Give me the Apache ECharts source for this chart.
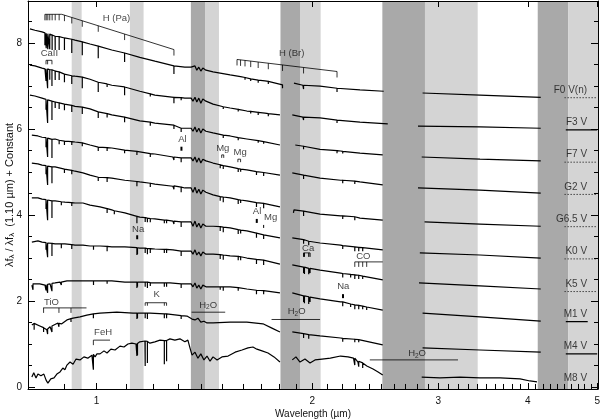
<!DOCTYPE html>
<html>
<head>
<meta charset="utf-8">
<script src="https://cdn.jsdelivr.net/npm/echarts@6/dist/echarts.min.js"></script>
<style>
html, body { margin: 0; background: #fff; }
#chart { width: 600px; height: 420px; }
</style>
</head>
<body>
<div id="chart"></div>
<script>
// axis ticks
const xMajorTicks = [1, 2, 3, 4, 5]
const xMinorTicks = [0.9, 1.1, 1.2, 1.3, 1.4, 1.5, 1.6, 1.7, 1.8, 1.9, 2.1, 2.2, 2.3, 2.4, 2.5, 2.6, 2.7, 2.8, 2.9,
  3.1, 3.2, 3.3, 3.4, 3.5, 3.6, 3.7, 3.8, 3.9, 4.1, 4.2, 4.3, 4.4, 4.5, 4.6, 4.7, 4.8, 4.9]
const yMajorTicks = [0, 2, 4, 6, 8]
const yMinorTicks = [0.5, 1, 1.5, 2.5, 3, 3.5, 4.5, 5, 5.5, 6.5, 7, 7.5, 8.5]

// telluric bands (um)
const darkBands = [[1.354, 1.417], [1.806, 1.923], [2.506, 2.874], [4.13, 4.557]]
const lightBands = [[0.923, 0.953], [1.113, 1.163], [1.417, 1.482], [1.923, 2.055], [2.874, 3.405], [4.557, 5.02]]

// stars, offsets, and whether an M band spectrum exists
const starNames = ['F0 V(n)', 'F3 V', 'F7 V', 'G2 V', 'G6.5 V', 'K0 V', 'K5 V', 'M1 V', 'M4 V', 'M8 V']
const starLevels = [6.73, 5.98, 5.23, 4.48, 3.73, 2.98, 2.22, 1.52, 0.77, 0.03]
const hasMBand = [false, true, false, false, false, false, false, true, true, false]

// line lists (um)
const paschen = [0.8468, 0.8504, 0.8548, 0.8601, 0.8667, 0.8753, 0.8865, 0.9017, 0.9232, 0.9549, 1.0052, 1.0941, 1.2822]
const brackett = [1.5705, 1.5885, 1.6114, 1.6412, 1.6811, 1.7367, 1.8179, 1.9451, 2.1661]
const caII = [0.8498, 0.8542, 0.8662]
const caI = [1.9453, 1.9507, 1.9777, 1.9862]
const coHeads = [2.2935, 2.3227, 2.3525, 2.3829]
const tioHeads = [0.8432, 0.8859, 0.9209]
const kI = [1.169, 1.1773, 1.2432, 1.2522]

// spectra: segments of [um, flux+offset]
const specF0 = [
  [[0.807,8.33],[0.820,8.30],[0.839,8.26],[0.847,8.23],[0.875,8.16],[0.903,8.12],[0.933,8.07],[0.979,7.98],[1.011,7.91],[1.050,7.84],[1.095,7.77],[1.149,7.67],[1.206,7.58],[1.282,7.47],[1.328,7.44],[1.355,7.44],[1.363,7.40],[1.372,7.47],[1.380,7.37],[1.389,7.44],[1.398,7.35],[1.407,7.42],[1.421,7.37],[1.454,7.33],[1.536,7.26],[1.621,7.19],[1.718,7.12],[1.821,7.02]],
  [[1.886,7.07],[1.941,7.02],[2.051,7.00],[2.170,6.95],[2.332,6.91],[2.517,6.88]],
  [[2.852,6.84],[3.43,6.79],[4.17,6.74]]
]
const linesF0 = [[0.8468,8.24,7.95],[0.8504,8.23,7.88],[0.8548,8.22,7.86],[0.8601,8.21,7.86],[0.8667,8.19,7.84],[0.8753,8.16,7.84],[0.8865,8.15,7.84],[0.9017,8.12,7.84],[0.9232,8.09,7.77],[0.9549,8.03,7.72],[1.0052,7.93,7.65],[1.0941,7.77,7.56],[1.2822,7.47,7.28],[1.5885,7.22,7.18],[1.6114,7.20,7.15],[1.6411,7.17,7.12],[1.6811,7.14,7.08],[1.7367,7.11,7.05],[1.8179,7.03,6.95],[1.9451,7.02,6.93],[2.1661,6.95,6.86]]

const specF3 = [
  [[0.807,7.49],[0.820,7.47],[0.839,7.42],[0.847,7.40],[0.875,7.35],[0.903,7.28],[0.933,7.23],[0.957,7.21],[0.979,7.16],[1.011,7.09],[1.050,7.02],[1.095,6.98],[1.149,6.88],[1.206,6.79],[1.282,6.74],[1.328,6.72],[1.355,6.72],[1.363,6.65],[1.372,6.74],[1.380,6.63],[1.389,6.72],[1.398,6.60],[1.407,6.70],[1.421,6.65],[1.454,6.58],[1.536,6.49],[1.621,6.42],[1.718,6.37],[1.803,6.33]],
  [[1.876,6.33],[1.941,6.28],[2.051,6.26],[2.170,6.21],[2.332,6.16],[2.550,6.12]],
  [[2.810,6.07],[3.43,6.05],[4.17,6.02]]
]
const linesF3 = [[0.8498,7.40,7.12],[0.8542,7.40,6.95],[0.8601,7.38,7.15],[0.8662,7.38,7.00],[0.8753,7.35,7.14],[0.8865,7.33,7.14],[0.9017,7.28,7.09],[0.9232,7.24,7.05],[0.9549,7.21,6.95],[1.0052,7.09,6.86],[1.0343,7.05,6.98],[1.0941,6.98,6.79],[1.1883,6.82,6.76],[1.2822,6.74,6.60],[1.3123,6.73,6.67],[1.5025,6.52,6.47],[1.5765,6.46,6.41],[1.6411,6.41,6.36],[1.6811,6.39,6.33],[1.7367,6.36,6.30],[1.9451,6.28,6.21],[2.1661,6.21,6.14]]

const specF7 = [
  [[0.807,6.79],[0.820,6.77],[0.839,6.72],[0.852,6.67],[0.875,6.63],[0.903,6.58],[0.933,6.53],[0.957,6.51],[0.979,6.47],[1.011,6.40],[1.050,6.33],[1.095,6.28],[1.149,6.19],[1.206,6.14],[1.282,6.09],[1.328,6.02],[1.355,6.02],[1.363,5.95],[1.372,6.05],[1.380,5.93],[1.389,6.02],[1.398,5.91],[1.407,6.00],[1.421,5.95],[1.454,5.91],[1.536,5.84],[1.621,5.77],[1.718,5.70],[1.803,5.63]],
  [[1.894,5.63],[1.954,5.58],[2.051,5.53],[2.191,5.49],[2.332,5.44],[2.509,5.40]],
  [[2.844,5.35],[3.43,5.30],[4.17,5.26]]
]
const linesF7 = [[0.8498,6.69,6.45],[0.8542,6.68,6.14],[0.8662,6.65,6.21],[0.8753,6.63,6.49],[0.8865,6.61,6.47],[0.9017,6.58,6.44],[0.9232,6.55,6.40],[0.9549,6.51,6.35],[1.0052,6.40,6.26],[1.0343,6.36,6.27],[1.0941,6.28,6.16],[1.1883,6.16,6.08],[1.2822,6.09,6.00],[1.3123,6.02,5.93],[1.5025,5.86,5.79],[1.5765,5.80,5.74],[1.6811,5.73,5.68],[1.7109,5.71,5.66],[1.9451,5.60,5.53],[2.1661,5.50,5.44],[2.2062,5.48,5.43]]

const specG2 = [
  [[0.812,5.86],[0.828,5.84],[0.839,5.81],[0.852,5.79],[0.875,5.77],[0.903,5.72],[0.933,5.70],[0.957,5.67],[0.979,5.63],[1.011,5.58],[1.050,5.56],[1.095,5.51],[1.149,5.47],[1.206,5.42],[1.278,5.35],[1.328,5.33],[1.355,5.33],[1.363,5.26],[1.372,5.35],[1.380,5.23],[1.389,5.33],[1.398,5.21],[1.407,5.30],[1.421,5.26],[1.454,5.21],[1.536,5.12],[1.621,5.05],[1.718,4.98],[1.803,4.93]],
  [[1.876,4.98],[1.954,4.91],[2.051,4.86],[2.191,4.81],[2.332,4.77],[2.509,4.70]],
  [[2.810,4.63],[3.43,4.58],[4.17,4.51]]
]
const linesG2 = [[0.8498,5.80,5.58],[0.8542,5.79,5.35],[0.8662,5.76,5.33],[0.8865,5.74,5.65],[0.9017,5.72,5.63],[0.9232,5.71,5.63],[0.9549,5.68,5.60],[1.0052,5.58,5.49],[1.0343,5.57,5.49],[1.0941,5.51,5.44],[1.1383,5.48,5.40],[1.1883,5.43,5.35],[1.2822,5.35,5.28],[1.3123,5.33,5.23],[1.4878,5.17,5.09],[1.5025,5.15,5.07],[1.5765,5.08,5.00],[1.589,5.07,5.01],[1.6719,5.01,4.93],[1.7109,4.99,4.91],[1.9453,4.93,4.84],[2.2062,4.81,4.74],[2.2935,4.79,4.72]]

const specG65 = [
  [[0.812,5.21],[0.828,5.19],[0.839,5.16],[0.852,5.14],[0.875,5.12],[0.903,5.07],[0.933,5.02],[0.957,4.98],[0.979,4.93],[1.011,4.88],[1.050,4.86],[1.095,4.81],[1.149,4.77],[1.206,4.72],[1.278,4.67],[1.328,4.63],[1.355,4.63],[1.363,4.53],[1.372,4.65],[1.380,4.51],[1.389,4.60],[1.398,4.49],[1.407,4.58],[1.421,4.53],[1.454,4.47],[1.536,4.40],[1.621,4.33],[1.718,4.26],[1.803,4.19]],
  [[1.883,4.05],[1.886,4.12],[1.954,4.07],[2.051,4.02],[2.191,3.98],[2.332,3.93],[2.509,3.88]],
  [[2.870,3.84],[3.43,3.79],[4.17,3.74]]
]
const linesG65 = [[0.8498,5.15,4.95],[0.8542,5.14,4.70],[0.8662,5.12,4.74],[0.9017,5.07,4.98],[0.9232,5.04,4.95],[1.0052,4.88,4.79],[1.0343,4.87,4.77],[1.1383,4.78,4.67],[1.1883,4.74,4.65],[1.2822,4.68,4.60],[1.3123,4.65,4.53],[1.4878,4.43,4.33],[1.5025,4.42,4.30],[1.5765,4.36,4.26],[1.589,4.35,4.28],[1.6719,4.29,4.19],[1.7109,4.27,4.16],[1.9453,4.09,3.98],[2.2062,3.98,3.91],[2.2935,3.96,3.88]]

const specK0 = [
  [[0.812,4.40],[0.828,4.40],[0.839,4.37],[0.852,4.35],[0.875,4.33],[0.903,4.30],[0.933,4.28],[0.957,4.28],[0.979,4.23],[1.011,4.19],[1.050,4.12],[1.095,4.05],[1.149,3.95],[1.206,3.91],[1.278,3.86],[1.328,3.84],[1.355,3.84],[1.363,3.74],[1.372,3.86],[1.380,3.72],[1.389,3.81],[1.398,3.70],[1.407,3.79],[1.421,3.74],[1.454,3.74],[1.536,3.70],[1.621,3.63],[1.718,3.53],[1.803,3.47]],
  [[1.876,3.47],[1.954,3.40],[2.051,3.35],[2.191,3.30],[2.332,3.23],[2.509,3.19]],
  [[2.827,3.12],[3.43,3.07],[4.17,3.00]]
]
const linesK0 = [[0.8498,4.36,4.14],[0.8542,4.35,3.88],[0.8662,4.33,3.93],[0.8927,4.31,4.23],[0.9232,4.29,4.21],[1.0343,4.15,4.05],[1.0585,4.10,4.02],[1.1383,3.97,3.81],[1.169,3.94,3.84],[1.1773,3.93,3.83],[1.1883,3.92,3.83],[1.2432,3.88,3.81],[1.2522,3.88,3.81],[1.2822,3.86,3.79],[1.3123,3.84,3.72],[1.4878,3.73,3.63],[1.5025,3.72,3.60],[1.5765,3.66,3.56],[1.589,3.65,3.57],[1.6719,3.58,3.47],[1.7109,3.54,3.44],[1.9453,3.43,3.33],[1.9777,3.39,3.30],[2.2062,3.29,3.21],[2.2935,3.26,3.16],[2.3227,3.25,3.16],[2.3525,3.24,3.16]]

const specK5 = [
  [[0.812,3.37],[0.828,3.40],[0.839,3.37],[0.852,3.35],[0.875,3.33],[0.903,3.33],[0.933,3.30],[0.957,3.30],[0.979,3.28],[1.011,3.28],[1.050,3.26],[1.095,3.26],[1.149,3.23],[1.206,3.21],[1.278,3.19],[1.328,3.16],[1.355,3.16],[1.363,3.09],[1.372,3.19],[1.380,3.07],[1.389,3.14],[1.398,3.05],[1.407,3.14],[1.421,3.09],[1.454,3.09],[1.536,3.05],[1.621,3.00],[1.718,2.93],[1.803,2.86]],
  [[1.876,2.84],[1.954,2.77],[2.051,2.72],[2.191,2.65],[2.332,2.58],[2.509,2.49]],
  [[2.819,2.42],[3.43,2.35],[4.17,2.28]]
]
const linesK5 = [[0.8498,3.36,3.19],[0.8542,3.35,3.02],[0.8662,3.34,3.05],[0.8927,3.33,3.23],[0.9232,3.31,3.21],[0.99,3.28,3.19],[1.0343,3.27,3.16],[1.1383,3.24,3.07],[1.1404,3.24,3.09],[1.169,3.23,3.12],[1.1773,3.22,3.09],[1.1883,3.22,3.12],[1.2432,3.20,3.12],[1.2522,3.20,3.12],[1.3123,3.16,3.05],[1.4878,3.08,2.98],[1.5025,3.07,2.96],[1.5765,3.04,2.95],[1.589,3.03,2.95],[1.6719,2.97,2.86],[1.7109,2.95,2.84],[1.9453,2.79,2.65],[1.9507,2.79,2.63],[1.9777,2.76,2.62],[1.9862,2.76,2.65],[2.2062,2.64,2.55],[2.2631,2.62,2.55],[2.2935,2.61,2.51],[2.3227,2.60,2.51],[2.3525,2.58,2.51]]

const specM1 = [
  [[0.812,2.37],[0.820,2.42],[0.833,2.40],[0.847,2.37],[0.861,2.40],[0.875,2.42],[0.889,2.44],[0.909,2.47],[0.933,2.47],[0.957,2.47],[0.979,2.47],[1.011,2.47],[1.050,2.47],[1.095,2.44],[1.149,2.44],[1.206,2.42],[1.266,2.42],[1.328,2.40],[1.355,2.40],[1.363,2.33],[1.372,2.42],[1.380,2.30],[1.389,2.37],[1.398,2.28],[1.407,2.37],[1.421,2.33],[1.454,2.33],[1.536,2.33],[1.621,2.28],[1.718,2.23],[1.803,2.19]],
  [[1.876,2.19],[1.954,2.09],[2.051,2.05],[2.191,1.98],[2.332,1.88],[2.509,1.79]],
  [[2.852,1.72],[3.43,1.63],[4.17,1.53]]
]
const linesM1 = [[0.815,2.40,2.26],[0.8498,2.38,2.25],[0.8542,2.39,2.19],[0.8662,2.41,2.23],[0.8927,2.44,2.37],[0.99,2.47,2.37],[1.0343,2.47,2.40],[1.1383,2.44,2.30],[1.1404,2.44,2.33],[1.169,2.44,2.33],[1.1773,2.44,2.30],[1.1883,2.43,2.35],[1.2432,2.42,2.33],[1.2522,2.42,2.33],[1.3123,2.40,2.30],[1.4878,2.33,2.26],[1.5025,2.33,2.24],[1.5765,2.31,2.24],[1.6719,2.25,2.16],[1.7109,2.24,2.16],[1.9453,2.12,1.98],[1.9507,2.12,1.95],[1.9777,2.10,1.93],[1.9862,2.09,1.98],[2.2062,1.98,1.88],[2.2631,1.93,1.86],[2.2935,1.91,1.81],[2.3227,1.90,1.81],[2.3525,1.88,1.81],[2.3829,1.86,1.79]]

const specM4 = [
  [[0.812,1.44],[0.823,1.49],[0.833,1.42],[0.844,1.37],[0.852,1.33],[0.861,1.40],[0.869,1.44],[0.883,1.49],[0.894,1.47],[0.909,1.56],[0.927,1.60],[0.948,1.63],[0.969,1.67],[1.011,1.72],[1.067,1.74],[1.124,1.72],[1.187,1.72],[1.254,1.70],[1.337,1.65],[1.359,1.58],[1.372,1.56],[1.385,1.60],[1.398,1.51],[1.412,1.53],[1.426,1.49],[1.454,1.49],[1.536,1.51],[1.621,1.51],[1.707,1.47],[1.757,1.37],[1.803,1.28]],
  [[1.876,1.28],[1.954,1.23],[2.051,1.19],[2.191,1.14],[2.332,1.07],[2.509,0.98]],
  [[2.852,0.91],[3.43,0.86],[4.17,0.81]]
]
const linesM4 = [[0.818,1.48,1.33],[0.8432,1.38,1.28],[0.8542,1.35,1.23],[0.8662,1.42,1.28],[0.8859,1.48,1.40],[0.9209,1.59,1.51],[0.9896,1.70,1.60],[1.1383,1.72,1.58],[1.1404,1.72,1.60],[1.169,1.72,1.60],[1.1773,1.72,1.58],[1.2432,1.70,1.60],[1.2522,1.70,1.60],[1.3123,1.66,1.58],[1.9453,1.24,1.14],[1.9777,1.22,1.12],[2.2062,1.13,1.05],[2.2935,1.11,1.04],[2.3227,1.10,1.04]]

const specM8 = [
  [[0.812,0.23],[0.817,0.33],[0.823,0.21],[0.828,0.30],[0.836,0.26],[0.844,0.30],[0.850,0.16],[0.855,0.09],[0.863,0.19],[0.872,0.21],[0.880,0.30],[0.889,0.35],[0.897,0.44],[0.903,0.40],[0.909,0.51],[0.918,0.58],[0.927,0.53],[0.936,0.65],[0.948,0.63],[0.960,0.70],[0.972,0.67],[0.985,0.74],[0.995,0.70],[1.001,0.77],[1.011,0.77],[1.024,0.84],[1.034,0.79],[1.047,0.88],[1.061,0.86],[1.078,0.95],[1.092,0.93],[1.106,1.00],[1.120,1.02],[1.135,1.00],[1.149,1.05],[1.168,1.07],[1.187,1.02],[1.206,1.05],[1.226,1.09],[1.246,1.07],[1.266,1.12],[1.286,1.09],[1.307,1.12],[1.328,1.05],[1.341,1.09],[1.350,0.91],[1.359,0.74],[1.372,0.81],[1.385,0.67],[1.398,0.77],[1.412,0.63],[1.426,0.72],[1.440,0.60],[1.454,0.70],[1.473,0.63],[1.496,0.70],[1.526,0.72],[1.561,0.81],[1.596,0.86],[1.627,0.91],[1.653,0.93],[1.674,0.88],[1.702,0.84],[1.735,0.79],[1.769,0.70],[1.803,0.58]],
  [[1.876,0.63],[1.898,0.70],[1.923,0.58],[1.954,0.65],[1.986,0.56],[2.018,0.63],[2.064,0.65],[2.120,0.67],[2.191,0.72],[2.244,0.70],[2.284,0.67],[2.317,0.58],[2.354,0.56],[2.384,0.49],[2.432,0.42],[2.472,0.35],[2.509,0.28]],
  [[2.844,0.23],[3.016,0.21],[3.217,0.23],[3.43,0.21],[3.659,0.21],[3.902,0.19],[4.029,0.14],[4.12,0.12]]
]
const linesM8 = [[0.9896,0.76,0.40],[1.1383,1.01,0.72],[1.1404,1.01,0.74],[1.169,1.07,0.49],[1.1773,1.06,0.56],[1.2432,1.08,0.53],[1.2522,1.08,0.60],[2.2935,0.67,0.51],[2.3227,0.60,0.47],[2.3525,0.56,0.44]]

const spectra = [
  [specF0, linesF0], [specF3, linesF3], [specF7, linesF7], [specG2, linesG2], [specG65, linesG65],
  [specK0, linesK0], [specK5, linesK5], [specM1, linesM1], [specM4, linesM4], [specM8, linesM8]
]

const X_MIN = 0.802
const X_MAX = 5.013
const Y_MIN = -0.047
const Y_MAX = 8.98
const DARK = '#a9a9a9'
const LIGHT = '#d4d4d4'
const FONT = 'Liberation Sans, Arial, sans-serif'

// annotation labels and brackets
const annotTexts = [
  [1.066, 8.57, 'H (Pa)'], [0.859, 7.77, 'CaII'], [1.872, 7.76, 'H (Br)'],
  [1.318, 5.76, 'Al'], [1.500, 5.55, 'Mg'], [1.586, 5.45, 'Mg'],
  [1.675, 4.08, 'Al'], [1.750, 3.95, 'Mg'], [1.143, 3.67, 'Na'],
  [1.974, 3.23, 'Ca'], [2.357, 3.05, 'CO'], [2.210, 2.35, 'Na'],
  [0.865, 1.98, 'TiO'], [1.213, 2.16, 'K'], [1.021, 1.26, 'FeH'],
  [1.431, 1.91, 'H2O'], [1.902, 1.75, 'H2O'], [2.802, 0.78, 'H2O']
]
const brackets = [
  { path: [[0.8468, 8.67], [0.894, 8.67], [1.2822, 7.85]], ticks: paschen, len: 6, w: 0.8 },
  { path: [[1.5705, 7.62], [2.1661, 7.34]], ticks: brackett, len: 6, w: 0.8 },
  { path: [[0.8498, 7.60], [0.8662, 7.60]], ticks: caII, len: 4, w: 0.8 },
  { path: [[1.4950, 5.40], [1.5048, 5.40]], ticks: [1.4950, 1.5048], len: 3, w: 0.8 },
  { path: [[1.5749, 5.30], [1.5886, 5.30]], ticks: [1.5749, 1.5886], len: 3, w: 0.8 },
  { path: [[1.9453, 3.12], [1.9862, 3.12]], ticks: caI, len: 4, w: 1 },
  { path: [[2.2935, 2.91], [2.509, 2.91]], ticks: coHeads, len: 5, w: 0.8 },
  { path: [[0.842, 1.84], [0.968, 1.84]], ticks: tioHeads, len: 5, w: 0.8 },
  { path: [[1.169, 1.96], [1.2522, 1.96]], ticks: kI, len: 3, w: 0.8 },
  { path: [[0.9896, 1.09], [1.044, 1.09]], ticks: [0.9896], len: 5, w: 0.8 },
  { path: [[1.357, 1.74], [1.512, 1.74]], ticks: [], len: 0, w: 0.8 },
  { path: [[1.755, 1.57], [2.051, 1.57]], ticks: [], len: 0, w: 0.8 },
  { path: [[2.407, 0.63], [3.196, 0.63]], ticks: [], len: 0, w: 0.8 },
  { path: [[1.3135, 5.59]], ticks: [1.3135], len: 4, w: 2 },
  { path: [[1.6735, 3.91]], ticks: [1.6735], len: 4, w: 2 },
  { path: [[1.7109, 3.77]], ticks: [1.7109], len: 3, w: 1 },
  { path: [[1.1393, 3.53]], ticks: [1.1393], len: 4, w: 2 },
  { path: [[2.208, 2.16]], ticks: [2.208], len: 4, w: 2 }
]

function spectrumSeries(segs, lines) {
  return segs.map(seg => {
    const lo = seg[0][0]
    const hi = seg[seg.length - 1][0]
    const pts = seg.slice()
    lines.forEach(([l, top, bot]) => {
      if (l > lo && l < hi) pts.push([l, top], [l, bot], [l, top])
    })
    pts.sort((a, b) => a[0] - b[0])
    return {
      type: 'line', data: pts, z: 3, symbol: 'none', silent: true, animation: false,
      lineStyle: { color: '#000', width: 1.2 }
    }
  })
}

function renderBands(params, api) {
  const a = api.coord([api.value(0), Y_MAX])
  const b = api.coord([api.value(1), Y_MIN])
  return {
    type: 'rect',
    shape: { x: a[0], y: a[1], width: b[0] - a[0], height: b[1] - a[1] },
    style: { fill: api.value(2) ? DARK : LIGHT }
  }
}

function renderBracket(params, api) {
  const b = brackets[params.dataIndex]
  const pts = b.path.map(p => api.coord(p))
  const children = []
  if (pts.length > 1) {
    children.push({ type: 'polyline', shape: { points: pts }, style: { stroke: '#000', lineWidth: 0.8, fill: null } })
  }
  b.ticks.forEach(l => {
    const x = api.coord([l, b.path[0][1]])[0]
    let y = pts[0][1]
    for (let i = 0; i < pts.length - 1; i++) {
      if (x >= pts[i][0] - 0.01 && x <= pts[i + 1][0] + 0.01) {
        const t = (x - pts[i][0]) / ((pts[i + 1][0] - pts[i][0]) || 1)
        y = pts[i][1] + t * (pts[i + 1][1] - pts[i][1])
      }
    }
    children.push({ type: 'line', shape: { x1: x, y1: y, x2: x, y2: y + b.len }, style: { stroke: '#000', lineWidth: b.w } })
  })
  return { type: 'group', children }
}

const tickAxis = (pos, vals, len, extra) => Object.assign({
  type: 'log', logBase: 10, min: X_MIN, max: X_MAX, position: pos, z: 6,
  axisLine: { show: false },
  axisTick: { show: true, inside: true, length: len, customValues: vals, lineStyle: { color: '#000', width: 1 } },
  axisLabel: { show: false },
  splitLine: { show: false }
}, extra || {})

const yTickAxis = (pos, vals, len, extra) => Object.assign({
  type: 'value', min: Y_MIN, max: Y_MAX, position: pos, z: 6,
  axisLine: { show: false },
  axisTick: { show: true, inside: true, length: len, customValues: vals, lineStyle: { color: '#000', width: 1 } },
  axisLabel: { show: false },
  splitLine: { show: false }
}, extra || {})

const series = []
series.push({
  type: 'custom', z: 1, silent: true, animation: false, clip: true,
  renderItem: renderBands,
  data: darkBands.map(b => [b[0], b[1], 1]).concat(lightBands.map(b => [b[0], b[1], 0]))
})
spectra.forEach(([segs, lines]) => { series.push(...spectrumSeries(segs, lines)) })

starLevels.forEach((lvl, i) => {
  if (i === starLevels.length - 1) return
  series.push({
    type: 'line', z: 3, symbol: 'none', silent: true, animation: false,
    data: hasMBand[i] ? [[4.52, lvl], [i === 7 ? 4.85 : 5.0, lvl]] : [[4.50, lvl], [5.0, lvl]],
    lineStyle: hasMBand[i] ? { color: '#000', width: 1.3 } : { color: '#444', width: 1, type: [1.5, 1.5] }
  })
})

series.push({
  type: 'scatter', z: 4, silent: true, animation: false, symbolSize: 1,
  itemStyle: { color: 'rgba(0,0,0,0)' },
  data: starNames.map((n, i) => ({ value: [4.84, starLevels[i]], name: n })),
  label: {
    show: true, position: 'top', distance: 2, align: 'right',
    formatter: p => p.name, fontFamily: FONT, fontSize: 10, color: '#111'
  }
})

series.push({
  type: 'scatter', z: 4, silent: true, animation: false, symbolSize: 1,
  itemStyle: { color: 'rgba(0,0,0,0)' },
  data: annotTexts.map(a => ({ value: [a[0], a[1]], name: a[2] })),
  label: {
    show: true, position: 'inside', color: '#111',
    formatter: p => p.name === 'H2O' ? '{t|H}{s|2}{t|O}' : '{t|' + p.name + '}',
    rich: {
      t: { fontFamily: FONT, fontSize: 9.5, color: '#111', lineHeight: 12 },
      s: { fontFamily: FONT, fontSize: 6.5, color: '#111', lineHeight: 7, verticalAlign: 'bottom' }
    }
  }
})

series.push({
  type: 'custom', z: 4, silent: true, animation: false, clip: false,
  renderItem: renderBracket,
  data: brackets.map(b => [b.path[0][0], b.path[0][1]])
})

const option = {
  animation: false,
  backgroundColor: '#fff',
  grid: { left: 28, right: 2, top: 1, bottom: 31, outerBoundsMode: 'none' },
  xAxis: [
    {
      type: 'log', logBase: 10, min: X_MIN, max: X_MAX, position: 'bottom', z: 6,
      axisLine: { show: true, onZero: false, lineStyle: { color: '#000', width: 1 } },
      axisTick: { show: true, inside: true, length: 6, customValues: xMajorTicks, lineStyle: { color: '#000', width: 1 } },
      axisLabel: { show: true, customValues: xMajorTicks, margin: 7, fontFamily: FONT, fontSize: 10, color: '#111' },
      splitLine: { show: false },
      name: 'Wavelength (µm)', nameLocation: 'middle', nameGap: 20, nameMoveOverlap: false,
      nameTextStyle: { fontFamily: FONT, fontSize: 10, color: '#111' }
    },
    tickAxis('bottom', xMinorTicks, 3),
    tickAxis('top', xMajorTicks, 6, { axisLine: { show: true, onZero: false, lineStyle: { color: '#000', width: 1 } } }),
    tickAxis('top', xMinorTicks, 3)
  ],
  yAxis: [
    {
      type: 'value', min: Y_MIN, max: Y_MAX, position: 'left', z: 6,
      axisLine: { show: true, onZero: false, lineStyle: { color: '#000', width: 1 } },
      axisTick: { show: true, inside: true, length: 7, customValues: yMajorTicks, lineStyle: { color: '#000', width: 1 } },
      axisLabel: { show: true, customValues: yMajorTicks, margin: 6, fontFamily: FONT, fontSize: 10, color: '#111' },
      splitLine: { show: false },
      name: '{n|λf}{s|λ}{n| / λf}{s|λ}{n|  (1.10 µm) + Constant}',
      nameLocation: 'middle', nameGap: 12, nameMoveOverlap: false,
      nameTextStyle: {
        rich: {
          n: { fontFamily: FONT, fontSize: 11, color: '#111', lineHeight: 13 },
          s: { fontFamily: FONT, fontSize: 8, color: '#111', lineHeight: 8, verticalAlign: 'bottom' }
        }
      }
    },
    yTickAxis('left', yMinorTicks, 4),
    yTickAxis('right', yMajorTicks, 7, { axisLine: { show: true, onZero: false, lineStyle: { color: '#000', width: 1 } } }),
    yTickAxis('right', yMinorTicks, 4)
  ],
  series: series
}

const chart = echarts.init(document.getElementById('chart'), null, { renderer: 'canvas' })
chart.setOption(option)
</script>
</body>
</html>
